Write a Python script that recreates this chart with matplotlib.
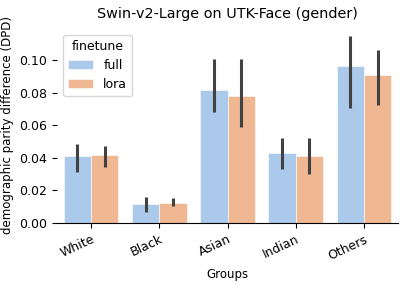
import numpy as np
import matplotlib
matplotlib.use("Agg")
import matplotlib.pyplot as plt
import seaborn as sns

groups = ["White", "Black", "Asian", "Indian", "Others"]
finetunes = ["full", "lora"]

full_vals = [0.0410, 0.0116, 0.0817, 0.0431, 0.0962]
full_lo = [0.0313, 0.0069, 0.0680, 0.0333, 0.0709]
full_hi = [0.0486, 0.0160, 0.1008, 0.0524, 0.1150]

lora_vals = [0.0415, 0.0126, 0.0778, 0.0409, 0.0909]
lora_lo = [0.0343, 0.0105, 0.0590, 0.0303, 0.0726]
lora_hi = [0.0476, 0.0154, 0.1008, 0.0524, 0.1060]


def main():
    pal = sns.color_palette("pastel")
    colors = [sns.desaturate(pal[0], 0.75), sns.desaturate(pal[1], 0.75)]

    fig = plt.figure(figsize=(4.07, 2.85), dpi=100)
    ax = fig.add_axes([0.14, 0.2175, 0.838, 0.69])
    x = np.arange(len(groups))
    w = 0.4
    series = [(full_vals, full_lo, full_hi), (lora_vals, lora_lo, lora_hi)]
    for i, (vals, lo, hi) in enumerate(series):
        pos = x - w / 2 + i * w
        ax.bar(pos, vals, width=w, color=colors[i], label=finetunes[i],
               edgecolor="white", linewidth=0.4)
        ax.vlines(pos, lo, hi, color="#424242", linewidth=2.2)

    ax.set_xticks(x)
    ax.set_xticklabels(groups, rotation=25, ha="right", rotation_mode="anchor",
                       fontsize=9)
    ax.tick_params(axis="y", labelsize=9)
    ax.set_xlim(-0.5, len(groups) - 0.5)
    ax.set_ylim(0, 0.1208)
    ax.set_yticks([0, 0.02, 0.04, 0.06, 0.08, 0.10])
    ax.set_xlabel("Groups", fontsize=8.5)
    ax.set_ylabel("demographic parity difference (DPD)", fontsize=8.5)
    ax.set_title("Swin-v2-Large on UTK-Face (gender)", fontsize=10.4)
    sns.despine(ax=ax, left=True)
    ax.legend(title="finetune", loc="upper left", fontsize=9, title_fontsize=9,
              bbox_to_anchor=(0.0, 0.99))

    plt.savefig("out.png", dpi=100)


if __name__ == "__main__":
    main()
